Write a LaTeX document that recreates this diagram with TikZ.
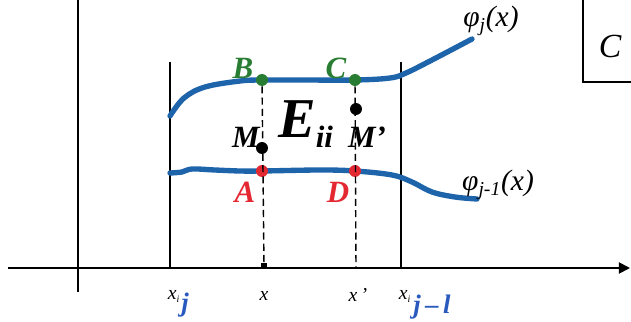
\documentclass[tikz,border=0pt]{standalone}
\usepackage{fontspec}
\setmainfont{Liberation Serif}
\usetikzlibrary{arrows.meta,positioning}

\definecolor{phiblue}{RGB}{30,100,170}
\definecolor{ptgreen}{RGB}{40,125,50}
\definecolor{ptred}{RGB}{228,40,50}
\definecolor{inkblue}{RGB}{40,90,190}

\begin{document}
\begin{tikzpicture}[
  x=0.025cm,y=-0.025cm,
  axis/.style={line width=1.3pt},
  wall/.style={line width=1pt},
  phi/.style={line width=3.8pt,draw=phiblue,line cap=round,line join=round},
  guide/.style={line width=1pt,dash pattern=on 5pt off 3pt},
  dot/.style={circle,fill=#1,inner sep=0pt,minimum size=8.5pt},
  ptlabel/.style={inner sep=0pt,font=\fontsize{22}{22}\selectfont\bfseries\itshape,text=#1},
  ticklabel/.style={inner sep=0pt,font=\fontsize{14}{14}\selectfont\itshape},
  hand/.style={inner sep=0pt,text=inkblue,font=\fontsize{19}{19}\selectfont\bfseries\itshape},
  curvelabel/.style={inner sep=0pt,font=\fontsize{21}{21}\selectfont\itshape}
]
\useasboundingbox (0,0) rectangle (631,322);

% axes
\draw[axis] (78,0) -- (78,292);
\draw[axis,-{Triangle[length=8pt,width=8pt]}] (8,268) -- (630,268);

% strip limits
\draw[wall] (170,62) -- (170,268);
\draw[wall] (401,62) -- (401,268);

% corner box
\draw[axis] (583,0) -- (583,82) -- (631,82);
\node[inner sep=0pt,font=\fontsize{24}{24}\selectfont\itshape] (boxC) at (610,46) {C};

% curves
\draw[phi] plot[smooth,tension=0.6] coordinates {(170,116) (184,98) (205,87) (240,81) (262,80) (300,80) (355,80) (390,78) (406,73) (432,60) (472,39)};
\draw[phi] plot[smooth,tension=0.6] coordinates {(170,173) (182,172) (192,169) (215,170) (240,171) (262,171) (320,170) (355,171) (392,175) (412,182) (432,192) (455,197) (477,199)};
\node[curvelabel] (phij) at (491,21) {φ\textsubscript{\fontsize{14}{14}\selectfont j}(x)};
\node[curvelabel] (phijm) at (498,185) {φ\textsubscript{\fontsize{14}{14}\selectfont j-1}(x)};

% points
\node[dot=ptgreen] (B) at (262,80) {};
\node[dot=ptgreen] (C) at (355,80) {};
\node[dot=ptred] (A) at (262,171) {};
\node[dot=ptred] (D) at (355,171) {};
\node[dot=black] (M) at (262,148) {};
\node[dot=black] (Mp) at (356,109) {};
\node[fill=black,inner sep=0pt,minimum size=4.5pt] (foot) at (264,266) {};
\coordinate (footp) at (356,268);

\draw[guide] (B) -- (foot);
\draw[guide] (C) -- (footp);

\node[ptlabel=ptgreen] (labB) at (243,68) {B};
\node[ptlabel=ptgreen] (labC) at (336,68) {C};
\node[ptlabel=ptred] (labA) at (245,192) {A};
\node[ptlabel=ptred] (labD) at (338,192) {D};
\node[ptlabel=black] (labM) at (246,137) {M};
\node[ptlabel=black] (labMp) at (367,137) {M’};
\node[inner sep=0pt,font=\fontsize{40}{40}\selectfont\bfseries\itshape] (E) at (306,124) {E\textsubscript{\fontsize{22}{22}\selectfont ii}};

% ticks
\node[ticklabel] (xj) at (174,296) {x\textsubscript{\fontsize{7}{7}\selectfont i}};
\node[hand] (hj) at (185,305) {j};
\node[ticklabel] (xa) at (264,296) {x};
\node[ticklabel] (xb) at (358,295) {x\,’};
\node[ticklabel] (xjm) at (405,296) {x\textsubscript{\fontsize{7}{7}\selectfont i}};
\node[hand] (hjm) at (432,307) {j\,–\,l};
\end{tikzpicture}
\end{document}
